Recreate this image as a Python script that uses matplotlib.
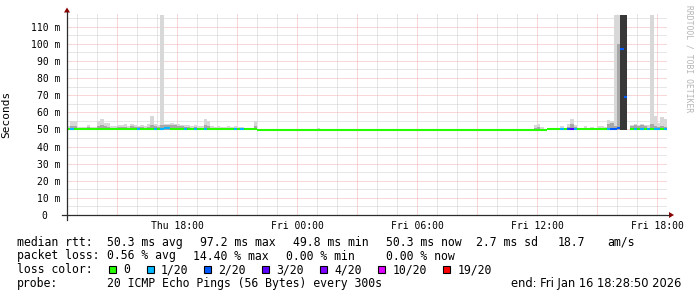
import numpy as np
import matplotlib
matplotlib.use("Agg")
import matplotlib.pyplot as plt
from matplotlib.patches import Rectangle, Polygon

nan = float("nan")

# ---------------- data (10-minute bins, Thu 12:28:50 -> Fri 18:28:50) ----------------
median_ms = [
    50.5, 50.5, 50.5, 50.5, 50.5, 50.5, 50.5, 50.5, 50.5, 50.5, 50.5, 50.5,
    50.5, 50.5, 50.5, 50.5, 50.5, 50.5, 50.5, 50.5, 50.5, 50.5, 50.5, 50.5,
    50.5, 50.5, 50.5, 50.5, 50.5, 51.0, 51.0, 50.5, 50.5, 50.5, 50.5, 50.5,
    50.5, 50.5, 50.5, 50.5, 50.5, 50.5, 50.5, 50.5, 50.5, 50.5, 50.5, 50.5,
    50.5, 50.5, 50.5, 50.5, 50.5, 50.5, 50.5, 50.5, 50.5, 49.8, 49.8, 49.8,
    49.8, 49.8, 49.8, 49.8, 49.8, 49.8, 49.8, 49.8, 49.8, 49.8, 49.8, 49.8,
    49.8, 49.8, 49.8, 49.8, 49.8, 49.8, 49.8, 49.8, 49.8, 49.8, 49.8, 49.8,
    49.8, 49.8, 49.8, 49.8, 49.8, 49.8, 49.8, 49.8, 49.8, 49.8, 49.8, 49.8,
    49.8, 49.8, 49.8, 49.8, 49.8, 49.8, 49.8, 49.8, 49.8, 49.8, 49.8, 49.8,
    49.8, 49.8, 49.8, 49.8, 49.8, 49.8, 49.8, 49.8, 49.8, 49.8, 49.8, 49.8,
    49.8, 49.8, 49.8, 49.8, 49.8, 49.8, 49.8, 49.8, 49.8, 49.8, 49.8, 49.8,
    49.8, 49.8, 49.8, 49.8, 49.8, 49.8, 49.8, 49.8, 49.9, 49.9, 49.9, 49.9,
    50.0, 50.0, 50.0, 50.0, 50.0, 50.0, 50.0, 50.0, 50.0, 50.0, 50.0, 50.0,
    50.0, 50.0, 50.0, 50.0, 50.0, 50.0, 50.0, 50.0, 50.5, 51.0, 97.2, 69.0,
    nan,  50.0, 50.0, 50.0, 50.0, 50.0, 50.0, 50.0, 50.0, 50.0, 50.0, 50.0,
]

smoke_max_ms = [
    52.0, 55.0, 55.0, 51.5, 51.5, 51.5, 52.5, 51.5, 51.5, 55.0, 56.0, 54.0,
    54.0, 52.0, 52.0, 52.5, 52.5, 53.0, 52.0, 53.0, 52.5, 52.0, 52.5, 52.0,
    53.0, 58.0, 53.0, 52.5, 117.0, 53.0, 53.0, 53.5, 53.0, 53.0, 52.5, 52.5,
    52.5, 52.0, 52.5, 52.0, 52.0, 56.0, 55.0, 52.0, 51.5, 52.0, 51.5, 51.5,
    52.0, 51.5, 52.0, 51.5, 51.5, 51.0, 51.0, 51.0, 55.0, 50.3, 50.3, 50.3,
    50.3, 50.3, 50.3, 50.3, 50.3, 50.3, 50.3, 50.3, 50.3, 50.3, 50.3, 50.3,
    50.3, 50.3, 50.3, 51.0, 50.3, 50.3, 50.3, 50.3, 50.3, 50.3, 50.3, 50.3,
    50.3, 50.3, 50.3, 50.3, 50.3, 50.3, 50.3, 50.3, 50.3, 50.3, 50.3, 50.3,
    50.3, 50.3, 50.3, 50.3, 50.3, 50.3, 50.3, 50.3, 50.3, 50.3, 50.3, 50.3,
    50.3, 50.3, 50.3, 50.3, 50.3, 50.3, 50.3, 50.3, 50.3, 50.3, 50.3, 50.3,
    50.3, 50.3, 50.3, 50.3, 50.3, 50.3, 50.3, 50.3, 50.3, 50.3, 50.3, 50.3,
    50.3, 50.3, 50.3, 50.3, 50.3, 50.3, 50.3, 50.3, 52.5, 53.0, 51.5, 50.3,
    50.3, 51.0, 50.3, 51.0, 52.0, 51.0, 53.0, 56.0, 52.5, 51.0, 51.0, 52.0,
    51.0, 51.5, 51.0, 52.0, 52.0, 51.5, 55.5, 55.0, 117.0, 117.0, 117.0, 117.0,
    nan,  52.5, 53.0, 52.5, 53.0, 52.5, 52.5, 117.0, 58.0, 54.0, 57.5, 56.0,
]

smoke_mid_ms = [
    51.0, 52.0, 52.0, 51.0, 51.0, 51.0, 51.5, 51.0, 51.0, 52.0, 52.5, 52.0,
    51.5, 51.0, 51.0, 51.5, 51.5, 51.5, 51.0, 52.0, 51.5, 51.5, 51.5, 51.0,
    51.5, 52.5, 52.0, 51.5, 52.5, 52.5, 52.5, 52.5, 52.5, 52.0, 52.0, 51.5,
    51.5, 51.0, 51.5, 51.0, 51.0, 52.5, 52.0, 51.0, 51.0, 51.0, 51.0, 51.0,
    51.0, 51.0, 51.0, 51.0, 51.0, 50.8, 50.8, 50.8, 52.0, 50.0, 50.0, 50.0,
    50.0, 50.0, 50.0, 50.0, 50.0, 50.0, 50.0, 50.0, 50.0, 50.0, 50.0, 50.0,
    50.0, 50.0, 50.0, 50.5, 50.0, 50.0, 50.0, 50.0, 50.0, 50.0, 50.0, 50.0,
    50.0, 50.0, 50.0, 50.0, 50.0, 50.0, 50.0, 50.0, 50.0, 50.0, 50.0, 50.0,
    50.0, 50.0, 50.0, 50.0, 50.0, 50.0, 50.0, 50.0, 50.0, 50.0, 50.0, 50.0,
    50.0, 50.0, 50.0, 50.0, 50.0, 50.0, 50.0, 50.0, 50.0, 50.0, 50.0, 50.0,
    50.0, 50.0, 50.0, 50.0, 50.0, 50.0, 50.0, 50.0, 50.0, 50.0, 50.0, 50.0,
    50.0, 50.0, 50.0, 50.0, 50.0, 50.0, 50.0, 50.0, 51.0, 51.5, 50.5, 50.0,
    50.0, 50.5, 50.0, 50.5, 51.0, 50.5, 51.5, 53.0, 51.5, 50.5, 50.5, 51.0,
    50.5, 50.5, 50.5, 51.0, 51.0, 50.5, 53.0, 53.5, 52.0, 100.0, 117.0, 117.0,
    nan,  52.0, 52.5, 52.0, 52.5, 52.0, 51.0, 53.0, 52.0, 51.5, 52.0, 51.5,
]

smoke_dark_ms = [
    0, 0, 0, 0, 0, 0, 0, 0, 0, 0, 0, 0,
    0, 0, 0, 0, 0, 0, 0, 0, 0, 0, 0, 0,
    0, 0, 0, 0, 0, 0, 0, 0, 0, 0, 0, 0,
    0, 0, 0, 0, 0, 0, 0, 0, 0, 0, 0, 0,
    0, 0, 0, 0, 0, 0, 0, 0, 0, 0, 0, 0,
    0, 0, 0, 0, 0, 0, 0, 0, 0, 0, 0, 0,
    0, 0, 0, 0, 0, 0, 0, 0, 0, 0, 0, 0,
    0, 0, 0, 0, 0, 0, 0, 0, 0, 0, 0, 0,
    0, 0, 0, 0, 0, 0, 0, 0, 0, 0, 0, 0,
    0, 0, 0, 0, 0, 0, 0, 0, 0, 0, 0, 0,
    0, 0, 0, 0, 0, 0, 0, 0, 0, 0, 0, 0,
    0, 0, 0, 0, 0, 0, 0, 0, 0, 0, 0, 0,
    0, 0, 0, 0, 0, 0, 0, 0, 0, 0, 0, 0,
    0, 0, 0, 0, 0, 0, 0, 0, 0, 0, 117.0, 117.0,
    0, 0, 0, 0, 0, 0, 0, 0, 0, 0, 0, 0,
]

loss_count = [
    0, 1, 0, 0, 0, 0, 0, 0, 0, 0, 0, 0,
    0, 0, 0, 0, 0, 0, 0, 0, 0, 1, 0, 0,
    0, 0, 1, 0, 1, 1, 1, 0, 0, 0, 0, 1,
    0, 0, 1, 0, 0, 1, 0, 0, 0, 0, 0, 0,
    0, 0, 1, 0, 1, 0, 0, 0, 0, 0, 0, 0,
    0, 0, 0, 0, 0, 0, 0, 0, 0, 0, 0, 0,
    0, 0, 0, 0, 0, 0, 0, 0, 0, 0, 0, 0,
    0, 0, 0, 0, 0, 0, 0, 0, 0, 0, 0, 0,
    0, 0, 0, 0, 0, 0, 0, 0, 0, 0, 0, 0,
    0, 0, 0, 0, 0, 0, 0, 0, 0, 0, 0, 0,
    0, 0, 0, 0, 0, 0, 0, 0, 0, 0, 0, 0,
    0, 0, 0, 0, 0, 0, 0, 0, 0, 0, 0, 0,
    0, 0, 0, 0, 1, 0, 2, 3, 1, 0, 0, 0,
    0, 0, 0, 0, 0, 0, 1, 2, 2, 2, 2, 2,
    0, 0, 1, 0, 1, 0, 1, 0, 1, 1, 0, 1,
]

smoke_floor_ms = 49.4

loss_levels = [0, 1, 2, 3, 4, 10, 19]
loss_labels = ["0", "1/20", "2/20", "3/20", "4/20", "10/20", "19/20"]
loss_colors = ["#26ff00", "#00b8ff", "#0059ff", "#5e00ff", "#7e00ff", "#dd00ff", "#ff0000"]

xtick_hours = [6, 12, 18, 24, 30]  # hours after Thu 12:00
xtick_labels = ["Thu 18:00", "Fri 00:00", "Fri 06:00", "Fri 12:00", "Fri 18:00"]
ytick_values = [0, 10, 20, 30, 40, 50, 60, 70, 80, 90, 100, 110]
ytick_labels = ["0  ", "10 m", "20 m", "30 m", "40 m", "50 m", "60 m", "70 m",
                "80 m", "90 m", "100 m", "110 m"]

rtt_stats = ["50.3 ms avg", "97.2 ms max", "49.8 ms min", "50.3 ms now", "2.7 ms sd", "18.7", "am/s"]
loss_stats = ["0.56 % avg", "14.40 % max", "0.00 % min", "0.00 % now"]
probe_text = "20 ICMP Echo Pings (56 Bytes) every 300s"
end_text = "end: Fri Jan 16 18:28:50 2026"

start_hours = 28 / 60 + 50 / 3600   # Thu 12:28:50, hours after Thu 12:00
step_hours = 10 / 60

# ---------------- figure ----------------
W, H = 697, 297
DPI = 100
MONO = "DejaVu Sans Mono"
fig = plt.figure(figsize=(W / DPI, H / DPI), dpi=DPI, facecolor="white")

def fx(px):
    return px / W

def fy(py):
    return 1 - py / H

ax_l, ax_r, ax_t, ax_b = 67, 667, 13, 215
ax = fig.add_axes([fx(ax_l), fy(ax_b), (ax_r - ax_l) / W, (ax_b - ax_t) / H])
ax.set_facecolor("white")
for s in ax.spines.values():
    s.set_visible(False)

n = len(median_ms)
edges = start_hours + step_hours * np.arange(n + 1)
ax.set_xlim(edges[0], edges[-1])
ax.set_ylim(0, 118)

# grid
minor_col = "#cfcfcf"
major_col = "#f0b0b0"
for h in range(1, 31):
    if h % 3:
        ax.axvline(h, color=minor_col, lw=0.72, ls=(0, (1, 1)), zorder=1)
for v in range(5, 118, 10):
    ax.axhline(v, color=minor_col, lw=0.72, ls=(0, (1, 1)), zorder=1)
for h in range(3, 31, 3):
    ax.axvline(h, color=major_col, lw=0.72, ls=(0, (1, 1)), zorder=1)
for v in ytick_values[1:]:
    ax.axhline(v, color=major_col, lw=0.72, ls=(0, (1, 1)), zorder=1)

# smoke
def clean(arr):
    a = np.asarray(arr, dtype=float)
    a = np.nan_to_num(a, nan=smoke_floor_ms)
    return np.maximum(a, smoke_floor_ms)

ax.stairs(clean(smoke_max_ms), edges, baseline=smoke_floor_ms, fill=True,
          color="#d8d8d8", lw=0, zorder=2)
ax.stairs(clean(smoke_mid_ms), edges, baseline=smoke_floor_ms, fill=True,
          color="#a8a8a8", lw=0, zorder=3)
ax.stairs(clean(smoke_dark_ms), edges, baseline=smoke_floor_ms, fill=True,
          color="#383838", lw=0, zorder=4)

# median coloured by loss
def loss_color(c):
    col = loss_colors[0]
    for lv, cl in zip(loss_levels, loss_colors):
        if c >= lv:
            col = cl
    return col

med = np.asarray(median_ms, dtype=float)
ok = ~np.isnan(med)
cols = [loss_color(c) for c, k in zip(loss_count, ok) if k]
ax.hlines(med[ok], edges[:-1][ok], edges[1:][ok], colors=cols, lw=1.5, zorder=6)

# ticks
ax.set_xticks(xtick_hours)
ax.set_xticklabels(xtick_labels, family=MONO, fontsize=7)
ax.set_yticks(ytick_values)
ax.set_yticklabels(ytick_labels, family=MONO, fontsize=7)
ax.tick_params(axis="both", length=0)
ax.tick_params(axis="x", pad=4)
ax.tick_params(axis="y", pad=5)
ax.set_ylabel("Seconds", family=MONO, fontsize=8)
ax.yaxis.set_label_coords((11 - ax_l) / (ax_r - ax_l), 0.5)

# axis lines and arrows (figure pixels)
axis_col = "#2c2c2c"
arrow_col = "#8b0000"
fig.add_artist(plt.Line2D([fx(62), fx(669)], [fy(215), fy(215)], color=axis_col, lw=0.9))
fig.add_artist(plt.Line2D([fx(67), fx(67)], [fy(219.5), fy(12)], color=axis_col, lw=0.9))
fig.add_artist(Polygon([[fx(674), fy(215)], [fx(669), fy(212)], [fx(669), fy(218)]],
                       closed=True, color=arrow_col, lw=0, transform=fig.transFigure))
fig.add_artist(Polygon([[fx(67), fy(7.5)], [fx(64), fy(12.5)], [fx(70), fy(12.5)]],
                       closed=True, color=arrow_col, lw=0, transform=fig.transFigure))

# watermark
fig.text(fx(688.5), fy(5), "RRDTOOL / TOBI OETIKER", rotation=270, ha="center", va="top",
         family=MONO, fontsize=5.8, color="#b4b4b4")

# legend
LF = 8.3
def ftxt(x, y, s, size=LF, ha="left", family=MONO):
    fig.text(fx(x), fy(y), s, ha=ha, va="baseline", family=family, fontsize=size, color="black")

ftxt(16.7, 245.7, "median rtt:")
for x, s in zip([107.3, 200, 292.7, 386.3, 476, 558, 607], rtt_stats):
    ftxt(x, 245.7, s)
ftxt(16.7, 259.5, "packet loss:")
for x, s in zip([107.3, 193.3, 286, 386.3], loss_stats):
    ftxt(x, 259.5, s)
ftxt(16.7, 273.3, "loss color:")
box_x = [109, 146.7, 204, 261.7, 320, 378, 443]
for bx, lab, col in zip(box_x, loss_labels, loss_colors):
    fig.add_artist(Rectangle((fx(bx), fy(273.3)), 7 / W, 7.5 / H, transform=fig.transFigure,
                             facecolor=col, edgecolor="black", lw=0.8))
    ftxt(bx + 14.3, 273.3, lab)
ftxt(16.7, 287.3, "probe:")
ftxt(107.3, 287.3, probe_text)
ftxt(681, 287.3, end_text, ha="right", family="DejaVu Sans")

fig.savefig("out.png", dpi=DPI, facecolor="white")
